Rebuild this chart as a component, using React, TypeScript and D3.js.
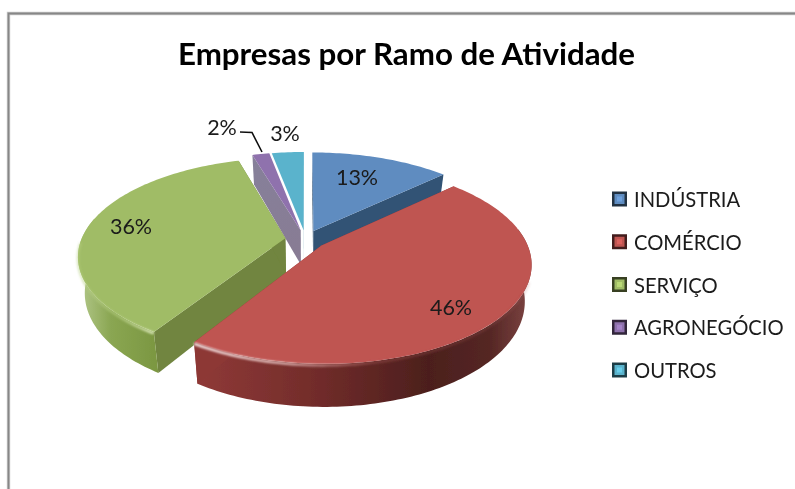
import React from "react";
import * as d3 from "d3";

const categories = ["INDÚSTRIA", "COMÉRCIO", "SERVIÇO", "AGRONEGÓCIO", "OUTROS"];
const values = [13, 46, 36.4, 1.6, 3];
const topColors = ["#5f8cc0", "#bf5451", "#a0bc66", "#8f72ad", "#5ab3cc"];
const cutColors = ["#325274", "#8d3836", "#71853f", "#827a90", "#3d8296"];
const labelPos: [number, number][] = [[357, 177], [451, 307], [131, 226], [222, 127], [285, 133]];
const title = "Empresas por Ramo de Atividade";

const CX = 305.5, CY = 239.5, R = 204, K = 95, P = 0.176, D = 35, EXPLODE = 0.1, SHRINK = 0.97;

type Pt = [number, number];

const arcs = d3.pie<number>().sort(null).value((d) => d).startAngle(0).endAngle(2 * Math.PI)(values);

function project(wx: number, wy: number, bottom = false): Pt {
  const w = 1 - P * wy;
  const x = CX + (R * wx) / w;
  const y = CY + (K * wy) / w;
  if (!bottom) return [x, y];
  return [CX + (x - CX) * SHRINK, y + D / w];
}
function rimPt(a: number, mid: number, r: number, bottom = false): Pt {
  const ox = EXPLODE * Math.sin(mid), oy = -EXPLODE * Math.cos(mid);
  return project(ox + r * Math.sin(a), oy - r * Math.cos(a), bottom);
}
const sample = (a0: number, a1: number) => {
  const n = Math.max(2, Math.ceil(Math.abs(a1 - a0) / 0.02));
  return d3.range(n + 1).map((i) => a0 + ((a1 - a0) * i) / n);
};
const line = d3.line<Pt>();

function App() {
  const deg = Math.PI / 180;
  return (
    <svg width={795} height={489} style={{ position: "absolute", left: 0, top: 0, background: "#fff" }}
      fontFamily="Lato, Carlito, sans-serif">
      <defs>
        <filter id="soft" x="-5%" y="-5%" width="110%" height="110%"><feGaussianBlur stdDeviation="0.45" /></filter>
        <filter id="glow" x="-10%" y="-30%" width="120%" height="160%"><feGaussianBlur stdDeviation="1" /></filter>
        <linearGradient id="wall1" gradientUnits="userSpaceOnUse" x1={190} x2={530} y1={0} y2={0}>
          <stop offset="0" stopColor="#913a38" />
          <stop offset="0.35" stopColor="#742d2b" />
          <stop offset="0.7" stopColor="#4c1f1d" />
          <stop offset="0.88" stopColor="#542624" />
          <stop offset="1" stopColor="#7d4442" />
        </linearGradient>
        <linearGradient id="wall2" gradientUnits="userSpaceOnUse" x1={78} x2={160} y1={0} y2={0}>
          <stop offset="0" stopColor="#b4c98c" />
          <stop offset="0.4" stopColor="#8aa652" />
          <stop offset="1" stopColor="#7a9640" />
        </linearGradient>
        <linearGradient id="face3" gradientUnits="userSpaceOnUse" x1={250} y1={160} x2={300} y2={250}>
          <stop offset="0" stopColor="#86809a" />
          <stop offset="1" stopColor="#887c94" />
        </linearGradient>
        <linearGradient id="hl1" gradientUnits="userSpaceOnUse" x1={190} x2={530} y1={0} y2={0}>
          <stop offset="0" stopColor="#fbeeee" stopOpacity="1" />
          <stop offset="0.28" stopColor="#f4d0ce" stopOpacity="0.8" />
          <stop offset="0.55" stopColor="#c06a68" stopOpacity="0.3" />
          <stop offset="1" stopColor="#a85a58" stopOpacity="0.2" />
        </linearGradient>
        <linearGradient id="hl2" gradientUnits="userSpaceOnUse" x1={78} x2={158} y1={0} y2={0}>
          <stop offset="0" stopColor="#b6cf82" stopOpacity="0.5" />
          <stop offset="0.5" stopColor="#b6cf82" stopOpacity="0.6" />
          <stop offset="1" stopColor="#e8f2cc" stopOpacity="1" />
        </linearGradient>
      </defs>

      <path d="M8.5 489V13.5H795" fill="none" stroke="#c9c9c9" strokeWidth={3.4} />
      <path d="M8.5 489V13.5H795" fill="none" stroke="#878787" strokeWidth={1.8} />

      <g filter="url(#soft)">
        {[4, 3, 0, 2, 1].map((i) => {
          const s = arcs[i];
          const mid = (s.startAngle + s.endAngle) / 2;
          const a0 = s.startAngle, a1 = s.endAngle;
          const apexTop = rimPt(0, mid, 0), apexBot = rimPt(0, mid, 0, true);
          const face = (a: number) =>
            line([apexTop, rimPt(a, mid, 1), rimPt(a, mid, 1, true), apexBot])! + "Z";
          const w0 = Math.max(a0, 80 * deg), w1 = Math.min(a1, 282 * deg);
          const hasWall = w1 > w0;
          const wallPts = hasWall
            ? [...sample(w0, w1).map((a) => rimPt(a, mid, 1)), ...sample(w1, w0).map((a) => rimPt(a, mid, 1, true))]
            : [];
          const h0 = Math.max(a0, 110 * deg), h1 = Math.min(a1, 268 * deg);
          const rimFront = hasWall ? sample(h0, h1).map((a) => rimPt(a, mid, 1)) : [];
          const top = [apexTop, ...sample(a0, a1).map((a) => rimPt(a, mid, 1))];
          const wallFill = i === 1 ? "url(#wall1)" : i === 2 ? "url(#wall2)" : cutColors[i];
          const faceFill = i === 3 ? "url(#face3)" : cutColors[i];
          return (
            <g key={i}>
              {i !== 4 && <path d={face(a0)} fill={faceFill} />}
              {hasWall && <path d={line(wallPts)! + "Z"} fill={wallFill} />}
              {i !== 3 && <path d={face(a1)} fill={faceFill} />}
              <path d={line(top)! + "Z"} fill={topColors[i]} />
              {(i === 1 || i === 2) && (
                <path d={line(rimFront)!} transform="translate(0,1.5)" fill="none"
                  stroke={i === 1 ? "url(#hl1)" : "url(#hl2)"} strokeWidth={2.6} filter="url(#glow)" />
              )}
            </g>
          );
        })}
      </g>

      <g filter="url(#soft)">
        <text x={406.5} y={65} textAnchor="middle" fontSize={31.3} fontWeight={700} fill="#000">{title}</text>
        {values.map((v, i) => (
          <text key={i} x={labelPos[i][0]} y={labelPos[i][1]} textAnchor="middle" dominantBaseline="central"
            fontSize={21.5} fill="#1a1a1a">{`${Math.round(v)}%`}</text>
        ))}
        <path d={line([[240, 132], [252, 132.5], [262, 152]])!} fill="none" stroke="#111" strokeWidth={1.6} />
        {categories.map((c, i) => {
          const y = d3.scalePoint<string>().domain(categories).range([199, 370])(c)!;
          return (
            <g key={c}>
              <rect x={612} y={y - 7.5} width={15} height={15} fill={d3.color(topColors[i])!.darker(3).formatHex()} />
              <rect x={614.5} y={y - 5} width={10} height={10} fill={topColors[i]} />
              <rect x={617} y={y - 2.5} width={5} height={5} fill={d3.color(topColors[i])!.brighter(0.4).formatHex()} />
              <text x={634} y={y} dominantBaseline="central" fontSize={20.2} fill="#1a1a1a">{c}</text>
            </g>
          );
        })}
      </g>
    </svg>
  );
}

export default App;
